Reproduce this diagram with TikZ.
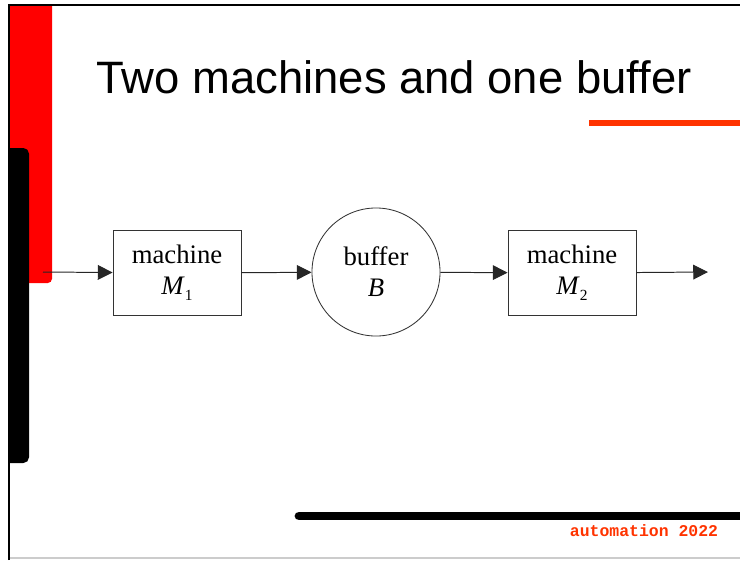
\documentclass[tikz,border=0pt]{standalone}
\usepackage{fontspec}
\setmainfont{Liberation Serif}
\newfontfamily\titlefont{Liberation Sans}
\newfontfamily\footfont{Liberation Mono}
\usetikzlibrary{arrows.meta}
\definecolor{slidered}{HTML}{FF0000}
\definecolor{accent}{HTML}{FF3300}
\newcommand{\machsub}[1]{\raisebox{-4pt}{\fontsize{11}{11}\selectfont #1}}

\begin{document}
\begin{tikzpicture}[
    x=0.025cm, y=-0.025cm,
    font=\fontsize{19}{22}\selectfont,
    flow/.style={draw=black!85, line width=0.7pt, -{Triangle[length=10.5pt, width=10.5pt]}},
    machine_box/.style={draw=black!80, line width=0.6pt, rectangle, minimum width=3.2cm,
                        minimum height=2.125cm, align=center, inner sep=0pt},
    buffer_circ/.style={draw=black!80, line width=0.6pt, circle, minimum size=3.2cm,
                        align=center, inner sep=0pt}
]
\useasboundingbox (0,0) rectangle (740,560);

% Slide frame and side bars
\draw[gray!40, line width=0.8pt] (9,558) -- (740,558);
\fill[slidered] (9,5) -- (52,5) [rounded corners=3pt] -- (52,283) [sharp corners] -- (9,283) -- cycle;
\fill[black] (9,148) [rounded corners=4pt] -- (29,148) -- (29,463) [sharp corners] -- (9,463) -- cycle;
\draw[black, line width=0.8pt] (9,560) -- (9,5) -- (740,5);

% Title
\node[font=\titlefont\fontsize{32.3}{36}\selectfont, anchor=base] (title) at (394,93) {Two machines and one buffer};
\fill[accent] (589,120) rectangle (740,126);

% Flow line: machine -> buffer -> machine
\coordinate (in) at (43,272);
\node[machine_box] (m1) at (177,273) {machine\\\textit{M}\machsub{1}};
\node[buffer_circ] (buf) at (376,272) {buffer\\\textit{B}};
\node[machine_box] (m2) at (572,273) {machine\\\textit{M}\machsub{2}};
\coordinate (out) at (708,272);

\draw[flow] (in) -- (m1);
\draw[flow] (m1) -- (buf);
\draw[flow] (buf) -- (m2);
\draw[flow] (m2) -- (out);

% Footer
\draw[black, line width=0.22cm, line cap=round] (299,516) -- (740,516);
\node[font=\footfont\bfseries\fontsize{11.7}{12}\selectfont, text=accent, anchor=base] (foot) at (644,536) {automation 2022};

\end{tikzpicture}
\end{document}
